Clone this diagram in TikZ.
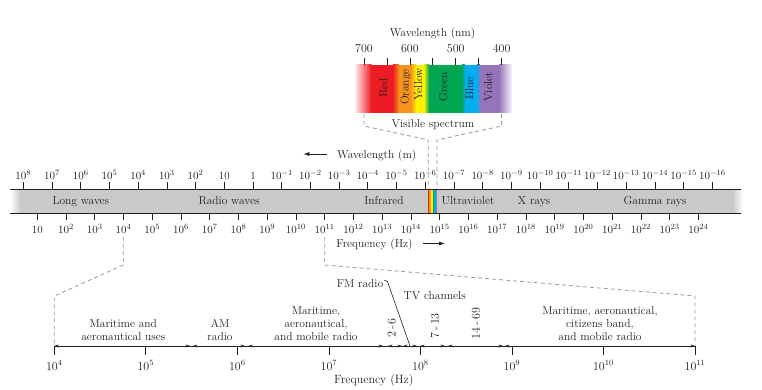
\documentclass[tikz,border=0pt]{standalone}
\usetikzlibrary{arrows.meta}
\definecolor{ink}{HTML}{231F20}
\definecolor{bandgray}{HTML}{C9C9C9}
\definecolor{dashgray}{HTML}{9A9A9A}
\definecolor{sred}{HTML}{ED1C24}
\definecolor{sorange}{HTML}{F7941D}
\definecolor{syellow}{HTML}{FFF200}
\definecolor{sgreen}{HTML}{00A651}
\definecolor{sblue}{HTML}{00AEEF}
\definecolor{sviolet}{HTML}{9575BA}
\begin{document}
\begin{tikzpicture}[x=1pt,y=-1pt,
  every node/.style={inner sep=0pt, text=ink},
  lbl/.style={font=\fontsize{11.5}{13.2}\selectfont, anchor=base, align=center},
  ticklbl/.style={font=\fontsize{11}{12}\selectfont, anchor=base},
  biglbl/.style={font=\fontsize{12}{13}\selectfont, anchor=base},
  rotlbl/.style={font=\fontsize{11.5}{12}\selectfont, rotate=90},
  guide/.style={draw=dashgray, dash pattern=on 4pt off 3pt, line width=0.8pt},
  axisline/.style={draw=ink, line width=0.7pt},
  seg/.style={{Stealth[length=4.5pt,width=2.8pt]}-{Stealth[length=4.5pt,width=2.8pt]}, draw=ink, line width=0.6pt},
  dirarrow/.style={-{Latex[length=6pt,width=4pt]}, draw=ink, line width=0.8pt},
]
\useasboundingbox (0,0) rectangle (762,390);

% ---------------- main band ----------------
\fill[bandgray] (20,189) rectangle (733,213);
\shade[left color=white, right color=bandgray] (10,189) rectangle (20.5,213);
\shade[left color=bandgray, right color=white] (732.5,189) rectangle (743,213);
\draw[ink, line width=1pt] (10,189) -- (741,189) (10,213) -- (741,213);
% rainbow strip
\fill[sred]    (427.7,189.5) rectangle (429.3,212.5);
\fill[sorange] (429.3,189.5) rectangle (430.9,212.5);
\fill[syellow] (430.9,189.5) rectangle (432.5,212.5);
\fill[sgreen]  (432.5,189.5) rectangle (434.1,212.5);
\fill[sblue]   (434.1,189.5) rectangle (435.7,212.5);
\fill[sviolet] (435.7,189.5) rectangle (437.3,212.5);

% band labels
\node[lbl] (lw)  at (80.8,204.5) {Long waves};
\node[lbl] (rw)  at (229,204.5) {Radio waves};
\node[lbl] (ir)  at (384,204.5) {Infrared};
\node[lbl] (uv)  at (468,204.5) {Ultraviolet};
\node[lbl] (xr)  at (534,204.5) {X rays};
\node[lbl] (gr)  at (655,204.5) {Gamma rays};

% wavelength ticks (top)
\foreach \e [count=\i from 0] in {8,7,...,-16} {
  \pgfmathsetmacro{\xx}{23.3+\i*28.71}
  \draw[axisline] (\xx,182) -- (\xx,189);
  \node[ticklbl] (wl\i) at (\xx,179.5) {\ifnum\e=0 1\else\ifnum\e=1 10\else$10^{\e}$\fi\fi};
}
% frequency ticks (bottom)
\foreach \e in {1,...,24} {
  \pgfmathsetmacro{\xx}{37.3+(\e-1)*28.74}
  \draw[axisline] (\xx,213) -- (\xx,220);
  \node[ticklbl] (fq\e) at (\xx,233.3) {\ifnum\e=1 10\else$10^{\e}$\fi};
}

% direction labels
\node[lbl] (wlm) at (376.7,158.3) {Wavelength (m)};
\coordinate (wla) at (326.7,154);
\coordinate (wlb) at (303.3,154);
\draw[dirarrow] (wla) -- (wlb);
\node[lbl] (fqh) at (374.5,247.5) {Frequency (Hz)};
\coordinate (fqa) at (423,243.5);
\coordinate (fqb) at (445,243.5);
\draw[dirarrow] (fqa) -- (fqb);

% ---------------- visible spectrum ----------------
\shade[left color=sred!12, right color=sred] (355.7,65) rectangle (371.5,112.7);
\fill[sred] (371,65) rectangle (393,112.7);
\shade[left color=sred, right color=sorange] (392.8,65) rectangle (399.2,112.7);
\fill[sorange] (399,65) rectangle (411,112.7);
\shade[left color=sorange, right color=syellow] (410.8,65) rectangle (416.2,112.7);
\fill[syellow] (416,65) rectangle (424,112.7);
\shade[left color=syellow, right color=sgreen] (423.8,65) rectangle (429.2,112.7);
\fill[sgreen] (429,65) rectangle (462,112.7);
\shade[left color=sgreen, right color=sblue] (461.8,65) rectangle (465.2,112.7);
\fill[sblue] (465,65) rectangle (477,112.7);
\shade[left color=sblue, right color=sviolet] (476.8,65) rectangle (480.2,112.7);
\fill[sviolet] (480,65) rectangle (499,112.7);
\shade[left color=sviolet, right color=sviolet!10] (498.8,65) rectangle (511.7,112.7);

\foreach \k in {0,...,6} {
  \pgfmathsetmacro{\xx}{364+\k*22.93}
  \draw[axisline] (\xx,58.3) -- (\xx,65);
}
\node[biglbl] (n700) at (364,52.7) {700};
\node[biglbl] (n600) at (409.9,52.7) {600};
\node[biglbl] (n500) at (455.7,52.7) {500};
\node[biglbl] (n400) at (501.6,52.7) {400};
\node[lbl] (wlnm) at (432.5,36.7) {Wavelength (nm)};

\node[rotlbl] (cr) at (383.3,88) {Red};
\node[rotlbl] (co) at (405.7,87) {Orange};
\node[rotlbl] (cy) at (418.3,84.5) {Yellow};
\node[rotlbl] (cg) at (443.3,86.7) {Green};
\node[rotlbl] (cb) at (469.3,88.3) {Blue};
\node[rotlbl] (cv) at (488.3,86.7) {Violet};
\node[lbl] (vis) at (433,127.3) {Visible spectrum};

% bracket from spectrum down to the band
\draw[guide] (364,114) -- (364,126) -- (428.3,140) -- (428.3,189);
\draw[guide] (501.6,114) -- (501.6,126) -- (437,140) -- (437,189);

% ---------------- radio detail axis ----------------
\draw[guide] (123.3,237) -- (123.3,265) -- (54.3,296) -- (54.3,346);
\draw[guide] (324.7,237) -- (324.7,265) -- (695,296) -- (695,346);

\coordinate (a4) at (54.3,346);
\coordinate (a11) at (695,346);
\draw[axisline] (a4) -- (a11);
\foreach \e in {4,...,11} {
  \pgfmathsetmacro{\xx}{54.3+(\e-4)*91.53}
  \draw[axisline] (\xx,346) -- (\xx,355);
  \node[biglbl] (ax\e) at (\xx,370) {$10^{\e}$};
}

% band segments
\foreach \p/\q [count=\j] in {54.3/190, 192.7/245, 248.3/383, 388/402, 403/417, 420/445, 448/503, 505/695} {
  \coordinate (s\j a) at (\p,346);
  \coordinate (s\j b) at (\q,346);
  \draw[seg] (s\j a) -- (s\j b);
}

\node[lbl] (mar1) at (123.3,340.7) {Maritime and\\aeronautical uses};
\node[lbl] (am)   at (220,340.7) {AM\\radio};
\node[lbl] (mar2) at (316,340.7) {Maritime,\\aeronautical,\\and mobile radio};
\node[lbl] (mar3) at (600,340.7) {Maritime, aeronautical,\\citizens band,\\and mobile radio};

\node[lbl] (fm) at (360,287.3) {FM radio};
\coordinate (fmtip) at (410,346);
\draw[ink, line width=0.6pt] (fm.east) ++(1,-3) -- ++(3,1) -- (fmtip);
\node[lbl] (tv) at (434.7,299.3) {TV channels};

\node[rotlbl, font=\fontsize{12}{12}\selectfont] (c26)  at (391.7,328) {2\,-\,6};
\node[rotlbl, font=\fontsize{12}{12}\selectfont] (c713) at (435,326) {7\,-\,13};
\node[rotlbl, font=\fontsize{12}{12}\selectfont] (c1469) at (476,323.5) {14\,-\,69};

\node[biglbl] (fqbot) at (373.8,383.5) {Frequency (Hz)};
\end{tikzpicture}
\end{document}
